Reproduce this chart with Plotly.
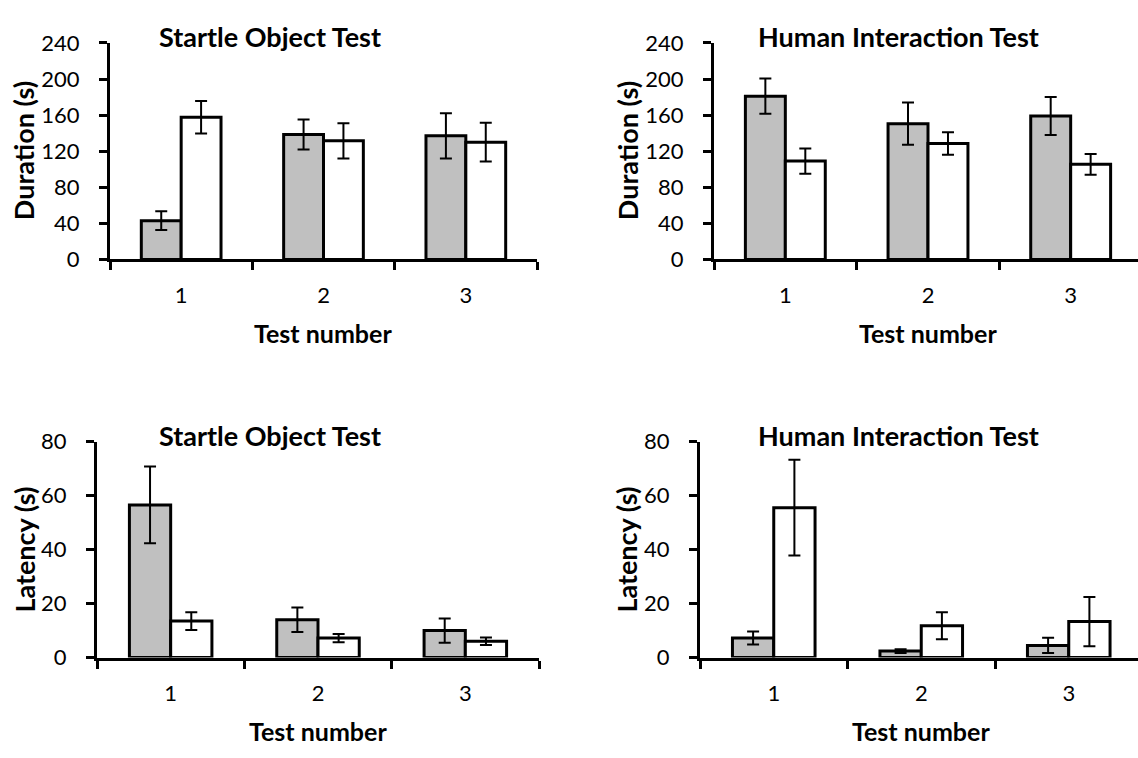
import plotly.graph_objects as go

tests = ["1", "2", "3"]

dur_startle_a = [43, 138.5, 137]
dur_startle_a_err = [10.5, 16.5, 25]
dur_startle_b = [157.5, 131.5, 130]
dur_startle_b_err = [18, 19.5, 21.5]

dur_human_a = [181, 150.5, 159]
dur_human_a_err = [19.5, 23.5, 21]
dur_human_b = [109, 128.5, 105.5]
dur_human_b_err = [14, 12.5, 11.5]

lat_startle_a = [56.5, 14, 10]
lat_startle_a_err = [14.2, 4.5, 4.5]
lat_startle_b = [13.5, 7.2, 6]
lat_startle_b_err = [3.3, 1.5, 1.4]

lat_human_a = [7.2, 2.4, 4.5]
lat_human_a_err = [2.4, 0.7, 2.8]
lat_human_b = [55.5, 11.8, 13.3]
lat_human_b_err = [17.7, 5, 9.1]

titles = ["Startle Object Test", "Human Interaction Test",
          "Startle Object Test", "Human Interaction Test"]
ytitles = ["Duration (s)", "Duration (s)", "Latency (s)", "Latency (s)"]
xtitle = "Test number"

W, H = 1138, 758
FONT = "Lato"

panels = [
    (dur_startle_a, dur_startle_a_err, dur_startle_b, dur_startle_b_err),
    (dur_human_a, dur_human_a_err, dur_human_b, dur_human_b_err),
    (lat_startle_a, lat_startle_a_err, lat_startle_b, lat_startle_b_err),
    (lat_human_a, lat_human_a_err, lat_human_b, lat_human_b_err),
]

# pixel geometry of each plot area: (left, right, top, bottom, xrange_hi, full_right)
geo = [
    (110, 537, 30, 254.5, 2.5, 537),
    (714, 1138, 30, 254.5, 2.5 - 4 / 142.6, 1142),
    (97, 539, 443.3, 667.3, 2.5, 539),
    (700, 1138, 443.3, 667.3, 2.5 - 4.5 / 147.5, 1142.5),
]
yranges = [[0, 240], [0, 240], [0, 80], [0, 80]]
dticks = [40, 40, 20, 20]
title_pos = [(270, 23), (898, 23), (270, 437), (898, 437)]
ytitle_x = [23, 627, 25, 627]

fig = go.Figure()
annotations = []
for i, (a, ae, b, be) in enumerate(panels):
    n = i + 1
    xa = "x" if n == 1 else f"x{n}"
    ya = "y" if n == 1 else f"y{n}"
    fig.add_trace(go.Bar(
        x=tests, y=a, xaxis=xa, yaxis=ya, offsetgroup="a",
        marker=dict(color="#C0C0C0", line=dict(color="black", width=3)),
        error_y=dict(type="data", array=ae, color="black", thickness=2, width=6),
        showlegend=False))
    fig.add_trace(go.Bar(
        x=tests, y=b, xaxis=xa, yaxis=ya, offsetgroup="b",
        marker=dict(color="white", line=dict(color="black", width=3)),
        error_y=dict(type="data", array=be, color="black", thickness=2, width=6),
        showlegend=False))
    l, r, t, btm, xhi, fr = geo[i]
    xkey = "xaxis" if n == 1 else f"xaxis{n}"
    ykey = "yaxis" if n == 1 else f"yaxis{n}"
    fig.update_layout(**{
        xkey: dict(domain=[l / W, r / W], anchor=ya, type="category",
                   range=[-0.5, xhi], showline=True, linewidth=3, linecolor="black",
                   ticks="outside", tickson="boundaries", ticklen=8, tickwidth=3,
                   tickcolor="black", showgrid=False, zeroline=False,
                   ticklabelstandoff=14,
                   tickfont=dict(family=FONT, size=22, color="black")),
        ykey: dict(domain=[1 - btm / H, 1 - t / H], anchor=xa, range=yranges[i],
                   dtick=dticks[i], showline=True, linewidth=3, linecolor="black",
                   ticks="outside", ticklen=8, tickwidth=3, tickcolor="black",
                   showgrid=False, zeroline=False, ticklabelstandoff=15,
                   tickfont=dict(family=FONT, size=22, color="black")),
    })
    tx, ty = title_pos[i]
    annotations.append(dict(text=f"<b>{titles[i]}</b>", x=tx / W, y=1 - ty / H,
                            xref="paper", yref="paper", showarrow=False,
                            xanchor="center", yanchor="middle",
                            font=dict(family=FONT, size=27, color="black")))
    annotations.append(dict(text=f"<b>{xtitle}</b>", x=(l + fr) / 2 / W,
                            y=1 - (btm + 76) / H, xref="paper", yref="paper",
                            showarrow=False, xanchor="center", yanchor="middle",
                            font=dict(family=FONT, size=25, color="black")))
    annotations.append(dict(text=f"<b>{ytitles[i]}</b>", x=ytitle_x[i] / W,
                            y=1 - (t + btm) / 2 / H, xref="paper", yref="paper",
                            showarrow=False, textangle=-90, xanchor="center",
                            yanchor="middle",
                            font=dict(family=FONT, size=27, color="black")))

fig.update_layout(width=W, height=H, margin=dict(l=0, r=0, t=0, b=0),
                  paper_bgcolor="white", plot_bgcolor="white",
                  barmode="group", bargap=0.44, bargroupgap=0,
                  annotations=annotations)

fig.write_html("out.html", config={"displayModeBar": False},
               post_script="document.body.style.margin='0';document.body.style.overflow='hidden';")
